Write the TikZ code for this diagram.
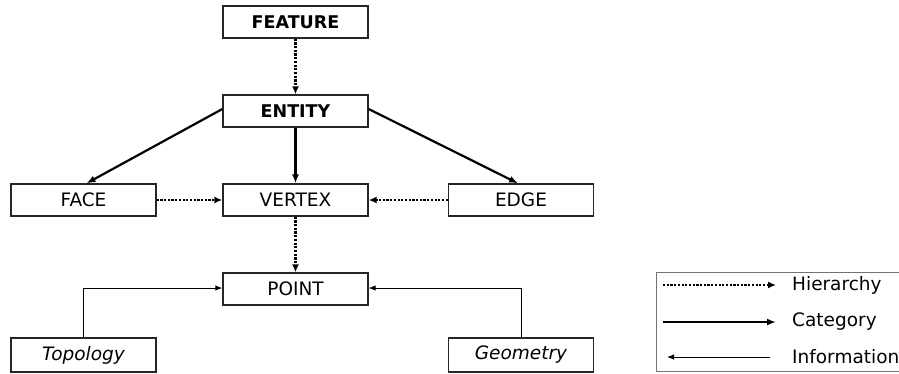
\documentclass[tikz,border=0pt]{standalone}
\usepackage{fontspec}
\setmainfont{DejaVu Sans}
\usetikzlibrary{arrows.meta}
\begin{document}
\begin{tikzpicture}[x=1pt,y=-1pt,
  box/.style={draw=black!85, line width=1.3pt, minimum width=145pt, minimum height=32pt,
    inner sep=0pt, font=\fontsize{18.5}{21}\selectfont},
  boldbox/.style={box, font=\fontsize{17.5}{21}\selectfont\bfseries},
  hier/.style={line width=2.8pt, dash pattern=on 2.2pt off 1.5pt,
    -{Latex[length=8pt,width=7pt]}},
  cat/.style={line width=2.2pt, -{Latex[length=9pt,width=7pt]}},
  info/.style={line width=0.9pt, -{Latex[length=7pt,width=5.5pt]}},
  legtext/.style={anchor=west, font=\fontsize{18.5}{21}\selectfont, inner sep=0pt}]
  \clip (0,0) rectangle (899,373);
  \fill[white] (0,0) rectangle (899,373);

  % class boxes
  \node[boldbox] (feature) at (295.5,22) {FEATURE};
  \node[boldbox] (entity)  at (295.5,111) {ENTITY};
  \node[box] (face)   at (83.5,200) {FACE};
  \node[box] (vertex) at (295.5,200) {VERTEX};
  \node[box] (edge)   at (521,200) {EDGE};
  \node[box] (point)  at (295.5,289) {POINT};
  \node[box, minimum height=34pt] (topo) at (83.5,355) {\itshape Topology};
  \node[box, minimum height=34pt] (geom) at (521,355) {\itshape Geometry};

  % hierarchy
  \draw[hier] (feature.south) -- (entity.north);
  \draw[hier] (face.east) -- (vertex.west);
  \draw[hier] (edge.west) -- (vertex.east);
  \draw[hier] (vertex.south) -- (point.north);

  % category
  \draw[cat] ([yshift=2pt]entity.west) -- ([xshift=3pt]face.north);
  \draw[cat] ([yshift=2pt]entity.east) -- ([xshift=-3pt]edge.north);
  \draw[cat] (entity.south) -- (vertex.north);

  % information
  \draw[info] (topo.north) |- ([yshift=1pt]point.west);
  \draw[info] (geom.north) |- ([yshift=1pt]point.east);

  % legend
  \draw[draw=black!55, line width=1pt] (656,272) rectangle (920,371);
  \coordinate (h1) at (663,285);
  \coordinate (h2) at (776,285);
  \coordinate (c1) at (663,322);
  \coordinate (c2) at (776,322);
  \coordinate (i1) at (770,357);
  \coordinate (i2) at (667,357);
  \draw[hier] (h1) -- (h2);
  \draw[cat] (c1) -- (c2);
  \draw[info] (i1) -- (i2);
  \node[legtext] (lh) at (792,285) {Hierarchy};
  \node[legtext] (lc) at (792,322) {Category};
  \node[legtext] (li) at (792,357) {Information};
\end{tikzpicture}
\end{document}
